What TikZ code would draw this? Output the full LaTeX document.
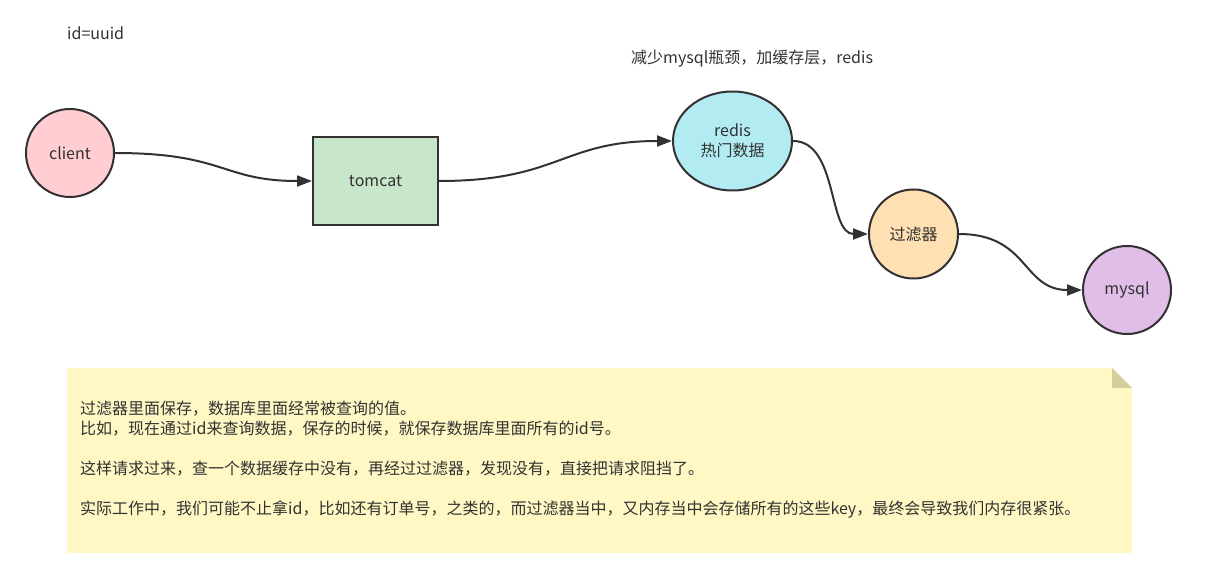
\documentclass[tikz,border=0pt]{standalone}
\usepackage{fontspec}
\setmainfont{Noto Sans CJK SC}
\usetikzlibrary{arrows.meta,shapes.geometric}
\definecolor{ink}{HTML}{323232}
\definecolor{cpink}{HTML}{FFCDD2}
\definecolor{cgreen}{HTML}{C8E6C9}
\definecolor{ccyan}{HTML}{B2EBF2}
\definecolor{corange}{HTML}{FFE0B2}
\definecolor{cpurple}{HTML}{E1BEE7}
\definecolor{notebg}{HTML}{FFF8C4}
\definecolor{notefold}{HTML}{D6CF9C}
\tikzset{
  shapebox/.style={draw=ink, line width=2pt, text=ink, font=\fontsize{16}{20}\selectfont, align=center, inner sep=0pt},
  flow/.style={draw=ink, line width=2pt, -{Triangle[length=15pt,width=11pt]}},
  plain/.style={text=ink, font=\fontsize{16}{20}\selectfont, inner sep=0pt},
}
\begin{document}
\begin{tikzpicture}[x=1pt,y=-1pt]
\useasboundingbox (0,0) rectangle (1209,572);
\fill[white] (0,0) rectangle (1209,572);

\node[plain, anchor=west] (idlabel) at (67,33) {id=uuid};
\node[plain, anchor=west] (toplabel) at (631,59) {减少mysql瓶颈，加缓存层，redis};

\node[shapebox, circle, fill=cpink, minimum size=88pt] (client) at (70,153) {client};
\node[shapebox, rectangle, fill=cgreen, minimum width=125pt, minimum height=88pt] (tomcat) at (375.5,181) {tomcat};
\node[shapebox, ellipse, fill=ccyan, minimum width=119pt, minimum height=99pt] (redis) at (732.5,141) {redis\\热门数据};
\node[shapebox, circle, fill=corange, minimum size=89pt] (filter) at (913.5,234) {过滤器};
\node[shapebox, circle, fill=cpurple, minimum size=88pt] (mysql) at (1127,290) {mysql};

\draw[flow] (client.east) .. controls +(110,0) and +(-90,0) .. (tomcat.west);
\draw[flow] (tomcat.east) .. controls +(120,0) and +(-110,0) .. (redis.west);
\draw[flow] (redis.east) .. controls +(45,0) and +(-40,0) .. (filter.west);
\draw[flow] (filter.east) .. controls +(70,0) and +(-60,0) .. (mysql.west);

% note
\fill[notebg] (67,368) -- (1112,368) -- (1132,388) -- (1132,553) -- (67,553) -- cycle;
\fill[notefold] (1112,368) -- (1132,388) -- (1112,388) -- cycle;
\node[anchor=north west, text=ink, font=\fontsize{16}{20}\selectfont, align=left, inner sep=0pt] (notetext) at (80,401) {过滤器里面保存，数据库里面经常被查询的值。\\
比如，现在通过id来查询数据，保存的时候，就保存数据库里面所有的id号。\\[20pt]
这样请求过来，查一个数据缓存中没有，再经过过滤器，发现没有，直接把请求阻挡了。\\[20pt]
实际工作中，我们可能不止拿id，比如还有订单号，之类的，而过滤器当中，又内存当中会存储所有的这些key，最终会导致我们内存很紧张。};
\end{tikzpicture}
\end{document}
